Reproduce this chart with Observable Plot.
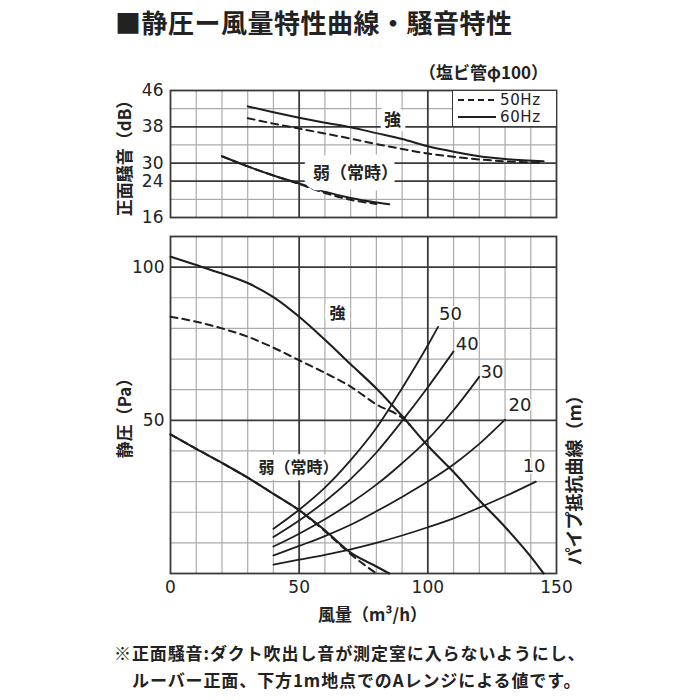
<!DOCTYPE html>
<html><head><meta charset="utf-8">
<script src="https://cdn.jsdelivr.net/npm/d3@7"></script>
<script src="https://cdn.jsdelivr.net/npm/@observablehq/plot@0.6"></script>
<style>
html,body{margin:0;padding:0;background:#fff;}
#wrap{position:relative;width:700px;height:700px;overflow:hidden;font-family:"Noto Sans CJK JP","Noto Sans",sans-serif;color:#222;}
.abs{position:absolute;white-space:nowrap;}
.cjk{font-family:"Noto Sans CJK JP",sans-serif;font-weight:700;}
#legend{position:absolute;left:452px;top:91px;width:103px;height:35px;background:#fff;border-left:1.6px solid #333;}
#legend svg{position:absolute;left:0;top:0;overflow:visible;}
</style></head><body>
<div id="wrap">
  <div class="abs cjk" style="left:115px;top:9px;font-size:26px;line-height:26px;letter-spacing:0.5px;">■静圧ー風量特性曲線・騒音特性</div>
  <div class="abs cjk" style="left:419px;top:63px;font-size:17px;line-height:17px;">（塩ビ管φ100）</div>
  <div id="top" class="abs" style="left:0;top:0;"></div>
  <div id="bottom" class="abs" style="left:0;top:230px;"></div>
  <div id="legend"></div>
  <div class="abs cjk" style="left:114px;top:644px;font-size:17px;line-height:17px;letter-spacing:0.9px;">※正面騒音:ダクト吹出し音が測定室に入らないようにし、</div>
  <div class="abs cjk" style="left:132px;top:671px;font-size:17px;line-height:17px;letter-spacing:0.9px;">ルーバー正面、下方1m地点でのAレンジによる値です。</div>
</div>
<script>
// ---------- axes / ticks ----------
const xTicks = [0, 50, 100, 150];
const xGridMinor = [10, 20, 30, 40, 60, 70, 80, 90, 110, 120, 130, 140];
const xGridMajor = [50, 100];
const dbTicks = [46, 38, 30, 24, 16];
const dbGridMinor = [42, 34, 20];
const dbGridMajor = [38, 30, 24];
const dbScaleStops = [16, 24, 30, 46];
const paTicks = [50, 100];
const paGridMinor = [10, 20, 30, 40, 60, 70, 80, 90];
const paGridMajor = [50, 100];

// ---------- top panel: 正面騒音 (dB) ----------
const qStrongTop = [30, 40, 50, 60, 70, 80, 90, 100, 110, 120, 130, 145];
const dbStrong60 = [42.5, 41.2, 40.0, 38.9, 37.9, 36.6, 35.3, 33.7, 32.5, 31.5, 30.9, 30.4];
const dbStrong50 = [39.9, 38.7, 37.6, 36.5, 35.4, 34.2, 33.1, 32.1, 31.4, 30.8, 30.4, 30.1];
const qWeakTop60 = [20, 30, 40, 50, 60, 70, 80, 85];
const dbWeak60 = [31.5, 28.9, 25.9, 23.5, 21.7, 20.3, 19.3, 18.9];
const qWeakTop50 = [20, 30, 40, 50, 60, 70, 80];
const dbWeak50 = [31.5, 28.9, 25.9, 23.4, 21.4, 19.9, 19.0];

// ---------- bottom panel: 静圧 (Pa) ----------
const qStrong60 = [0, 10, 20, 30, 40, 50, 60, 70, 80, 90, 100, 110, 120, 130, 140, 145];
const paStrong60 = [103.4, 100.7, 97.9, 94.8, 90.2, 83.8, 76.3, 68.3, 60.4, 51.4, 41.7, 33.1, 23.9, 15.2, 5.5, 0];
const qStrong50 = [0, 10, 20, 30, 40, 50, 60, 70, 80, 90, 93];
const paStrong50 = [83.8, 82.2, 80.0, 77.3, 73.7, 69.6, 65.5, 61.0, 55.2, 50.8, 48.5];
const qWeak60 = [0, 10, 20, 30, 40, 50, 60, 70, 80, 85];
const paWeak60 = [45.4, 40.7, 36.1, 31.3, 26.0, 20.7, 14.1, 6.8, 2.3, 0];
const qWeak50 = [0, 10, 20, 30, 40, 50, 60, 70, 80];
const paWeak50 = [45.4, 40.7, 36.1, 31.3, 26.0, 20.6, 13.8, 6.3, 0];

// パイプ抵抗曲線 (m)
const pipeLengths = [10, 20, 30, 40, 50];
const qPipe10 = [40, 50, 60, 70, 80, 90, 100, 110, 120, 130, 142];
const paPipe10 = [2.9, 4.5, 6.1, 7.9, 10.0, 12.4, 15.1, 18.0, 21.5, 25.2, 30.0];
const qPipe20 = [40, 50, 60, 70, 80, 90, 100, 110, 120, 130];
const paPipe20 = [5.9, 9.0, 12.2, 15.9, 20.3, 25.0, 30.0, 35.6, 42.3, 50.2];
const qPipe30 = [40, 50, 60, 70, 80, 90, 100, 110, 120];
const paPipe30 = [8.8, 13.0, 17.7, 23.0, 29.0, 36.0, 43.8, 53.3, 64.2];
const qPipe40 = [40, 50, 60, 70, 80, 90, 100, 110];
const paPipe40 = [11.9, 17.3, 23.5, 30.8, 39.5, 49.8, 60.8, 72.5];
const qPipe50 = [40, 50, 60, 70, 80, 90, 100, 104];
const paPipe50 = [14.6, 20.8, 28.0, 37.0, 47.5, 60.5, 74.5, 80.5];
const pipeLabelQ = [141.3, 135.8, 124.9, 115.3, 108.8];
const pipeLabelPa = [35.1, 54.9, 65.8, 74.7, 84.7];

// annotations
const topLabels = [{t: "強", q: 86.3, v: 39.4, halo: 9}, {t: "弱（常時）", q: 71.9, v: 26.6, halo: 19}];
const bottomLabels = [{t: "強", q: 64.9, v: 84.8}, {t: "弱（常時）", q: 49.7, v: 34.6}];

const txtDB = "正面騒音（dB）";
const txtPa = "静圧（Pa）";
const txtX = "風量（m³/h）";
const txtPipe = "パイプ抵抗曲線（m）";

const zipRows = (qs, vs, extra = {}) => qs.map((q, i) => ({q, v: vs[i], ...extra}));

const minorStyle = {stroke: "#ababab", strokeOpacity: 1, strokeWidth: 1.2};
const majorStyle = {stroke: "#3a3a3a", strokeOpacity: 1, strokeWidth: 1.8};
const lineStyle = {x: "q", y: "v", stroke: "#1e1e1e", strokeWidth: 2, curve: "monotone-x"};
const dashStyle = {...lineStyle, strokeDasharray: "7,5"};
const numFont = "DejaVu Sans, Liberation Sans, sans-serif";
const cjkFont = "Noto Sans CJK JP, sans-serif";

// ---------- top chart ----------
const topH = 230, mT = 90, mB = 13;
const y0 = topH - mB, step = (y0 - mT) / 7;
const topPlot = Plot.plot({
  width: 700, height: topH,
  marginLeft: 170, marginRight: 144, marginTop: mT, marginBottom: mB,
  style: {background: "transparent", fontFamily: numFont, color: "#222"},
  x: {domain: [0, 150], axis: null},
  y: {type: "linear", domain: dbScaleStops, range: [y0, y0 - 2 * step, y0 - 3 * step, mT], axis: null},
  marks: [
    Plot.gridX(xGridMinor, minorStyle),
    Plot.gridY(dbGridMinor, minorStyle),
    Plot.gridX(xGridMajor, majorStyle),
    Plot.gridY(dbGridMajor, majorStyle),
    Plot.frame({stroke: "#3a3a3a", strokeWidth: 1.8}),
    Plot.line(zipRows(qStrongTop, dbStrong50), dashStyle),
    Plot.line(zipRows(qStrongTop, dbStrong60), lineStyle),
    Plot.line(zipRows(qWeakTop50, dbWeak50), dashStyle),
    Plot.line(zipRows(qWeakTop60, dbWeak60), lineStyle),
    Plot.text(topLabels, {x: "q", y: "v", text: "t", fontFamily: cjkFont, fontWeight: 700, fontSize: 17, fill: "#222", stroke: "white", strokeWidth: (d) => d.halo, strokeLinejoin: "round"}),
    Plot.axisY(dbTicks, {anchor: "left", tickSize: 0, tickPadding: 7, fontSize: 17, label: null, fill: "#222"}),
    Plot.text([txtDB], {frameAnchor: "left", textAnchor: "middle", lineAnchor: "middle", rotate: -90, dx: -45, fontFamily: cjkFont, fontWeight: 700, fontSize: 17, fill: "#222"})
  ]
});
document.getElementById("top").appendChild(topPlot);

// ---------- bottom chart ----------
const pipeRows = [
  ...zipRows(qPipe10, paPipe10, {len: 10}),
  ...zipRows(qPipe20, paPipe20, {len: 20}),
  ...zipRows(qPipe30, paPipe30, {len: 30}),
  ...zipRows(qPipe40, paPipe40, {len: 40}),
  ...zipRows(qPipe50, paPipe50, {len: 50})
];
const pipeLabelRows = pipeLengths.map((len, i) => ({t: String(len), q: pipeLabelQ[i], v: pipeLabelPa[i]}));

const botPlot = Plot.plot({
  width: 700, height: 470,
  marginLeft: 170, marginRight: 144, marginTop: 6, marginBottom: 127,
  style: {background: "transparent", fontFamily: numFont, color: "#222"},
  x: {domain: [0, 150], axis: null},
  y: {domain: [0, 110], axis: null},
  marks: [
    Plot.gridX(xGridMinor, minorStyle),
    Plot.gridY(paGridMinor, minorStyle),
    Plot.gridX(xGridMajor, majorStyle),
    Plot.gridY(paGridMajor, majorStyle),
    Plot.frame({stroke: "#3a3a3a", strokeWidth: 1.8}),
    Plot.line(pipeRows, {...lineStyle, z: "len", strokeWidth: 1.8}),
    Plot.line(zipRows(qStrong50, paStrong50), dashStyle),
    Plot.line(zipRows(qStrong60, paStrong60), {...lineStyle, strokeWidth: 2.1}),
    Plot.line(zipRows(qWeak50, paWeak50), dashStyle),
    Plot.line(zipRows(qWeak60, paWeak60), {...lineStyle, strokeWidth: 2.1}),
    Plot.text(bottomLabels, {x: "q", y: "v", text: "t", fontFamily: cjkFont, fontWeight: 700, fontSize: 16, fill: "#222", stroke: "white", strokeWidth: 10, strokeLinejoin: "round"}),
    Plot.text(pipeLabelRows, {x: "q", y: "v", text: "t", fontFamily: numFont, fontSize: 18, fill: "#222", stroke: "white", strokeWidth: 3}),
    Plot.axisY(paTicks, {anchor: "left", tickSize: 0, tickPadding: 6, fontSize: 17, label: null, fill: "#222"}),
    Plot.axisX(xTicks, {anchor: "bottom", tickSize: 0, tickPadding: 7, fontSize: 17, label: null, fill: "#222"}),
    Plot.text([txtPa], {frameAnchor: "left", textAnchor: "middle", lineAnchor: "middle", rotate: -90, dx: -45, dy: 9, fontFamily: cjkFont, fontWeight: 700, fontSize: 17, fill: "#222"}),
    Plot.text([txtX], {frameAnchor: "bottom", textAnchor: "middle", lineAnchor: "middle", dx: 9, dy: 42, fontFamily: cjkFont, fontWeight: 700, fontSize: 17, fill: "#222"}),
    Plot.text([txtPipe], {frameAnchor: "bottom-right", textAnchor: "start", lineAnchor: "middle", rotate: -90, dx: 19, dy: -8, fontFamily: cjkFont, fontWeight: 700, fontSize: 18, fill: "#222"})
  ]
});
document.getElementById("bottom").appendChild(botPlot);

// ---------- legend (inside top panel) ----------
const legendItems = [{label: "50Hz", dash: "6,4"}, {label: "60Hz", dash: null}];
const lsvg = d3.select("#legend").append("svg").attr("width", 103).attr("height", 35);
legendItems.forEach((d, i) => {
  const yy = 9 + i * 17;
  lsvg.append("line").attr("x1", 5).attr("x2", 43).attr("y1", yy).attr("y2", yy)
    .attr("stroke", "#1e1e1e").attr("stroke-width", 1.8).attr("stroke-dasharray", d.dash);
  lsvg.append("text").attr("x", 47).attr("y", yy).attr("dy", "0.36em")
    .attr("font-family", numFont).attr("font-size", 15).attr("letter-spacing", "0.6px")
    .attr("fill", "#222").text(d.label);
});
</script>
</body></html>
